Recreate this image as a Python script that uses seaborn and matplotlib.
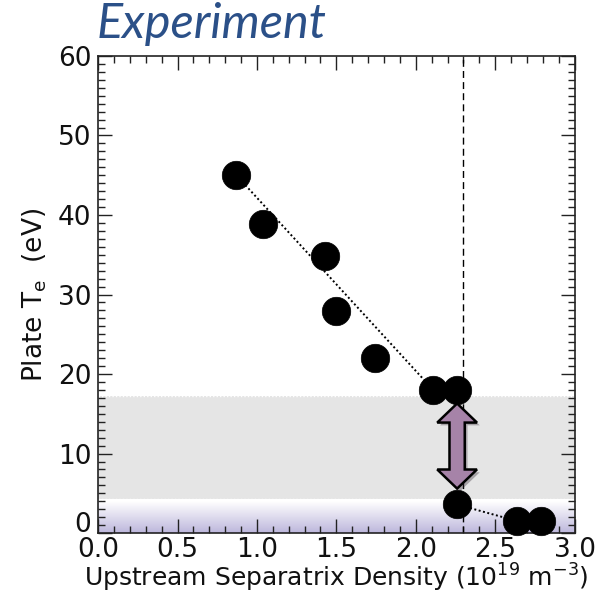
import numpy as np
import pandas as pd
import matplotlib
matplotlib.use("Agg")
import matplotlib.pyplot as plt
import matplotlib.patheffects as pe
import matplotlib.transforms as mtransforms
from matplotlib.patches import Polygon
from matplotlib.colors import LinearSegmentedColormap
from matplotlib.ticker import MultipleLocator
import seaborn as sns

# data
density = [0.87, 1.04, 1.43, 1.50, 1.74, 2.11, 2.26, 2.26, 2.64, 2.79]
plate_te = [45.0, 38.9, 34.9, 27.9, 22.0, 18.0, 18.0, 3.6, 1.5, 1.5]
trend1_x = [0.87, 2.11]
trend1_y = [45.0, 18.0]
trend2_x = [2.26, 2.64]
trend2_y = [3.6, 1.5]
band_low, band_high = 4.3, 17.2
rollover_x = 2.30
arrow_x, arrow_top, arrow_bottom = 2.26, 16.3, 5.6
x_ticks = [0.0, 0.5, 1.0, 1.5, 2.0, 2.5, 3.0]
y_ticks = [0, 10, 20, 30, 40, 50, 60]

df = pd.DataFrame({"density": density, "te": plate_te})

sns.set_theme(style="white")
plt.rcParams["font.family"] = ["DejaVu Sans"]
plt.rcParams["mathtext.fontset"] = "dejavusans"

fig = plt.figure(figsize=(5.98, 5.95), dpi=100)
ax = fig.add_axes([0.164, 0.104, 0.797, 0.802])
ax.set_xlim(0, 3)
ax.set_ylim(0, 60)

# gray band
ax.axhspan(band_low, band_high, color="#e5e5e5", zorder=0, lw=0)
ax.axhline(band_low, color="white", ls=(0, (1, 1.5)), lw=1, zorder=1)
ax.axhline(band_high, color="white", ls=(0, (1, 1.5)), lw=1, zorder=1)
# gradient
cmap = LinearSegmentedColormap.from_list("g", ["#bdb7dc", "#ffffff"])
grad = np.linspace(0, 1, 100).reshape(-1, 1)
ax.imshow(grad, extent=[0, 3, 0, band_low - 0.3], origin="lower", aspect="auto",
          cmap=cmap, zorder=0)

# dashed line
ax.axvline(rollover_x, color="black", ls=(0, (5, 3)), lw=1, zorder=2)

# trend lines
ax.plot(trend1_x, trend1_y, color="black", ls=(0, (1, 1.3)), lw=1.4, zorder=3)
ax.plot(trend2_x, trend2_y, color="black", ls=(0, (1, 1.3)), lw=1.4, zorder=3)

sns.scatterplot(data=df, x="density", y="te", s=420, color="black",
                edgecolor="black", linewidth=0.5, ax=ax, zorder=4, clip_on=False)

# double arrow
hw, sw, hl = 0.125, 0.048, 2.4
xs = arrow_x
pts = [
    (xs, arrow_top), (xs + hw, arrow_top - hl), (xs + sw, arrow_top - hl),
    (xs + sw, arrow_bottom + hl), (xs + hw, arrow_bottom + hl), (xs, arrow_bottom),
    (xs - hw, arrow_bottom + hl), (xs - sw, arrow_bottom + hl), (xs - sw, arrow_top - hl),
    (xs - hw, arrow_top - hl),
]
arrow = Polygon(pts, closed=True, facecolor="#a683a8", edgecolor="black", lw=1.8,
                zorder=6, joinstyle="miter")
arrow.set_path_effects([pe.SimplePatchShadow(offset=(2, -2), alpha=0.35), pe.Normal()])
ax.add_patch(arrow)

# ticks
ax.set_xticks(x_ticks)
ax.set_yticks(y_ticks)
ax.set_xticklabels([f"{v:.1f}" for v in x_ticks])
ax.set_yticklabels([str(v) for v in y_ticks])
ax.xaxis.set_minor_locator(MultipleLocator(0.1))
ax.yaxis.set_minor_locator(MultipleLocator(1))
ax.tick_params(which="both", direction="in", top=True, right=True, bottom=True, left=True,
               color="#222222", width=1)
ax.tick_params(which="major", length=10, labelsize=19, pad=5, labelcolor="#111111")
ax.tick_params(axis="x", which="major", pad=3)
ax.tick_params(which="minor", length=5)
for s in ax.spines.values():
    s.set_color("#222222")
    s.set_linewidth(1.2)

# lift the y "0" label a little, as in the reference
lbl0 = ax.get_yticklabels()[0]
lbl0.set_transform(lbl0.get_transform() + mtransforms.ScaledTranslation(0, 8 / 72, fig.dpi_scale_trans))

ax.set_xlabel(r"Upstream Separatrix Density (10$^{19}$ m$^{-3}$)",
              fontsize=18, color="#111111", labelpad=-1)
ax.set_ylabel(r"Plate T$_{\mathrm{e}}$  (eV)", fontsize=19, color="#111111", labelpad=6)

fig.text(0.162, 0.936, "Experiment", fontsize=35, style="italic", color="#2b5088",
         family=["Lato", "DejaVu Sans"], ha="left", va="baseline")

fig.savefig("out.png", dpi=100)
